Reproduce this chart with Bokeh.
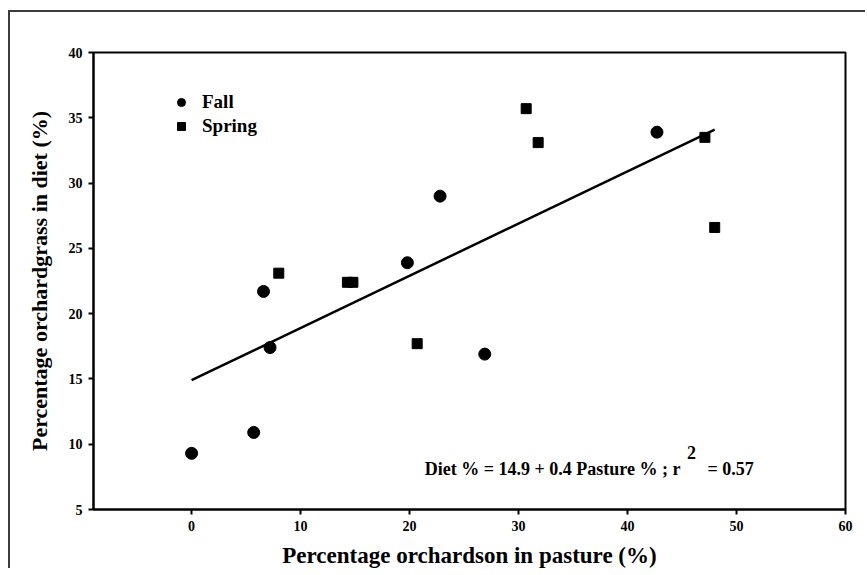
from bokeh.plotting import figure
from bokeh.models import Range1d, Legend, LegendItem, Label, FixedTicker
from bokeh.embed import file_html
from bokeh.resources import INLINE

# ---- data ----
fall_x = [0.0, 5.7, 6.6, 7.2, 19.8, 22.8, 26.9, 42.7]
fall_y = [9.3, 10.9, 21.7, 17.4, 23.9, 29.0, 16.9, 33.9]
spring_x = [8.0, 14.3, 14.8, 20.7, 30.7, 31.8, 47.1, 48.0]
spring_y = [23.1, 22.4, 22.4, 17.7, 35.7, 33.1, 33.5, 26.6]
fit_intercept = 14.9
fit_slope = 0.4
fit_x = [0.0, 48.0]
fit_y = [fit_intercept + fit_slope * v for v in fit_x]
x_ticks = [0, 10, 20, 30, 40, 50, 60]
y_ticks = [5, 10, 15, 20, 25, 30, 35, 40]
x_title = "Percentage orchardson in pasture (%)"
y_title = "Percentage orchardgrass in diet (%)"
eq_main = "Diet % = 14.9 + 0.4 Pasture % ; r"
eq_sup = "2"
eq_tail = "= 0.57"

SERIF = "Liberation Serif"

p = figure(width=857, height=558, output_backend="svg", toolbar_location=None,
           x_range=Range1d(-9, 60), y_range=Range1d(5, 40),
           min_border_left=83, min_border_right=22, min_border_top=40, min_border_bottom=52)
p.margin = (10, 0, 0, 8)
p.styles = {"border-top": "2px solid #3c3c3c", "border-left": "2px solid #3c3c3c"}

p.xgrid.visible = False
p.ygrid.visible = False
p.outline_line_color = "black"
p.outline_line_width = 2
p.background_fill_color = "white"
p.border_fill_color = "white"

for ax in (p.xaxis[0], p.yaxis[0]):
    ax.axis_line_color = "black"
    ax.axis_line_width = 2
    ax.major_tick_line_width = 2
    ax.major_tick_in = 0
    ax.major_tick_out = 5
    ax.minor_tick_line_color = None
    ax.major_label_text_font = SERIF
    ax.major_label_text_font_style = "bold"
    ax.major_label_text_font_size = "14px"
    ax.major_label_text_color = "black"
    ax.axis_label_text_font = SERIF
    ax.axis_label_text_font_style = "bold"
    ax.axis_label_text_color = "black"

p.xaxis.ticker = FixedTicker(ticks=x_ticks)
p.yaxis.ticker = FixedTicker(ticks=y_ticks)
p.xaxis.axis_label = x_title
p.yaxis.axis_label = y_title
p.xaxis.axis_label_text_font_size = "23px"
p.yaxis.axis_label_text_font_size = "22px"
p.xaxis.major_label_standoff = 6
p.yaxis.major_label_standoff = 6
p.xaxis.axis_label_standoff = 9
p.yaxis.axis_label_standoff = 14

p.line(fit_x, fit_y, line_color="black", line_width=2.5)

r_fall = p.scatter(fall_x, fall_y, marker="circle", size=12, fill_color="black", line_color="black")
r_spring = p.scatter(spring_x, spring_y, marker="square", size=10, fill_color="black", line_color="black")

legend = Legend(items=[LegendItem(label="Fall", renderers=[r_fall]),
                       LegendItem(label="Spring", renderers=[r_spring])],
                location=(78, 372), padding=0, margin=0, spacing=2,
                glyph_width=20, glyph_height=20, label_standoff=11,
                border_line_alpha=0, background_fill_alpha=0,
                label_text_font=SERIF, label_text_font_style="bold",
                label_text_font_size="19px", label_text_color="black")
p.add_layout(legend)

frame_bottom = 41
p.add_layout(Label(x=587, y=frame_bottom, x_units="screen", y_units="screen", text=eq_main,
                   text_align="right", text_baseline="middle", text_font=SERIF,
                   text_font_style="bold", text_font_size="18px", text_color="black"))
p.add_layout(Label(x=598, y=frame_bottom + 16, x_units="screen", y_units="screen", text=eq_sup,
                   text_align="center", text_baseline="middle", text_font=SERIF,
                   text_font_style="bold", text_font_size="18px", text_color="black"))
p.add_layout(Label(x=614, y=frame_bottom, x_units="screen", y_units="screen", text=eq_tail,
                   text_align="left", text_baseline="middle", text_font=SERIF,
                   text_font_style="bold", text_font_size="18px", text_color="black"))

open("out.html", "w").write(file_html(p, INLINE))
